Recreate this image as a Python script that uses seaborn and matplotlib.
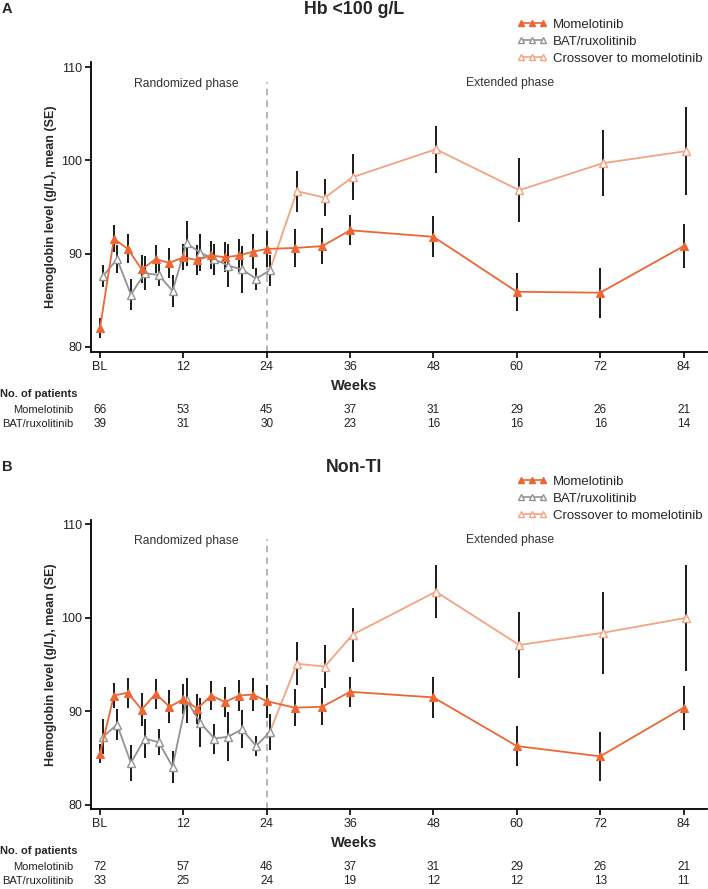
import numpy as np
import pandas as pd
import matplotlib
matplotlib.use("Agg")
import matplotlib.pyplot as plt
from matplotlib.lines import Line2D
from matplotlib.transforms import blended_transform_factory
import seaborn as sns

# ---------------- data ----------------
weeks = [0, 2, 4, 6, 8, 10, 12, 14, 16, 18, 20, 22, 24, 28, 32, 36, 48, 60, 72, 84]
bat_weeks = [0, 2, 4, 6, 8, 10, 12, 14, 16, 18, 20, 22, 24]
cross_weeks = [28, 32, 36, 48, 60, 72, 84]

momA_mean = [82.0, 91.6, 90.5, 88.3, 89.4, 89.0, 89.6, 89.3, 89.8, 89.6, 89.8, 90.2, 90.5,
             90.6, 90.8, 92.5, 91.8, 85.9, 85.8, 90.8]
momA_se = [1.1, 1.45, 1.55, 1.5, 1.5, 1.6, 1.4, 1.6, 1.5, 1.6, 1.8, 1.9, 1.9,
           2.0, 1.9, 1.6, 2.2, 2.05, 2.7, 2.4]
batA_mean = [87.6, 89.4, 85.6, 87.9, 87.7, 86.0, 91.1, 90.1, 89.4, 88.7, 88.3, 87.3, 88.2]
batA_se = [1.2, 1.5, 1.7, 1.8, 1.2, 1.7, 2.45, 2.0, 1.65, 2.3, 2.5, 1.2, 1.7]
crossA_mean = [96.7, 96.0, 98.2, 101.2, 96.8, 99.7, 101.0]
crossA_se = [2.2, 2.0, 2.5, 2.55, 3.45, 3.55, 4.7]

momB_mean = [85.5, 91.7, 92.0, 90.2, 91.9, 90.5, 91.3, 90.3, 91.7, 91.0, 91.7, 91.8, 91.1,
             90.4, 90.5, 92.1, 91.5, 86.3, 85.2, 90.4]
momB_se = [1.05, 1.35, 1.6, 1.8, 1.6, 1.75, 1.6, 1.6, 1.6, 1.6, 1.7, 1.8, 1.75,
           2.0, 2.0, 1.6, 2.2, 2.1, 2.6, 2.35]
batB_mean = [87.3, 88.6, 84.5, 87.1, 86.7, 84.1, 91.2, 88.8, 87.1, 87.3, 88.1, 86.3, 87.8]
batB_se = [1.9, 1.7, 1.9, 2.1, 1.4, 1.7, 2.4, 2.6, 1.6, 2.6, 2.0, 1.1, 1.95]
crossB_mean = [95.1, 94.8, 98.2, 102.8, 97.1, 98.4, 100.0]
crossB_se = [2.3, 2.3, 2.9, 2.85, 3.5, 4.35, 5.65]

tick_weeks = [0, 12, 24, 36, 48, 60, 72, 84]
tick_labels = ["BL", "12", "24", "36", "48", "60", "72", "84"]

nA_mom = [66, 53, 45, 37, 31, 29, 26, 21]
nA_bat = [39, 31, 30, 23, 16, 16, 16, 14]
nB_mom = [72, 57, 46, 37, 31, 29, 26, 21]
nB_bat = [33, 25, 24, 19, 12, 12, 13, 11]

series_names = ["Momelotinib", "BAT/ruxolitinib", "Crossover to momelotinib"]
panel_titles = ["Hb <100 g/L", "Non-TI"]
panel_letters = ["A", "B"]
ylabel = "Hemoglobin level (g/L), mean (SE)"

# ---------------- style ----------------
sns.set_theme(style="white")
plt.rcParams["font.family"] = ["Liberation Sans", "DejaVu Sans"]

C_MOM = "#EE6633"
C_BAT = "#939393"
C_CROSS = "#F5A383"
C_ERR = "#1a1a1a"
BAT_DODGE = 0.45
CROSS_DODGE = 0.35

W, H = 708, 889
fig = plt.figure(figsize=(W / 100, H / 100), dpi=100)

def fy(px):
    return 1 - px / H

panels = [
    dict(top=61.7, bot=352.3, ylim=(79.4, 110.6), mom=(momA_mean, momA_se), bat=(batA_mean, batA_se),
         cross=(crossA_mean, crossA_se), n_mom=nA_mom, n_bat=nA_bat, title_base=13.5, leg_y=18.5),
    dict(top=520.0, bot=809.3, ylim=(79.54, 110.46), mom=(momB_mean, momB_se), bat=(batB_mean, batB_se),
         cross=(crossB_mean, crossB_se), n_mom=nB_mom, n_bat=nB_bat, title_base=471.5, leg_y=475.5),
]

left_px, right_px = 90.7, 706.5
xlim = (-1.34, 87.3)

for i, p in enumerate(panels):
    ax = fig.add_axes([left_px / W, fy(p["bot"]), (right_px - left_px) / W, (p["bot"] - p["top"]) / H])
    mom_m, mom_s = p["mom"]
    bat_m, bat_s = p["bat"]
    cr_m, cr_s = p["cross"]

    xb = np.array(bat_weeks) + BAT_DODGE
    xc = np.array(cross_weeks) + CROSS_DODGE

    # error bars
    ax.vlines(xb, np.array(bat_m) - np.array(bat_s), np.array(bat_m) + np.array(bat_s),
              color=C_ERR, lw=1.4, zorder=1)
    ax.vlines(weeks, np.array(mom_m) - np.array(mom_s), np.array(mom_m) + np.array(mom_s),
              color=C_ERR, lw=1.4, zorder=1)
    ax.vlines(xc, np.array(cr_m) - np.array(cr_s), np.array(cr_m) + np.array(cr_s),
              color=C_ERR, lw=1.4, zorder=1)

    # crossover connector from last BAT point
    df_conn = pd.DataFrame({"x": [xb[-1]] + list(xc), "y": [bat_m[-1]] + list(cr_m)})
    sns.lineplot(data=df_conn, x="x", y="y", ax=ax, color=C_CROSS, lw=1.3, errorbar=None,
                 marker="^", markersize=5.5, markerfacecolor="white", markeredgecolor=C_CROSS,
                 markeredgewidth=1.0, markevery=list(range(1, len(df_conn))), zorder=3)
    df_bat = pd.DataFrame({"x": xb, "y": bat_m})
    sns.lineplot(data=df_bat, x="x", y="y", ax=ax, color=C_BAT, lw=1.3, errorbar=None,
                 marker="^", markersize=5.5, markerfacecolor="white", markeredgecolor=C_BAT,
                 markeredgewidth=1.0, zorder=3)
    df_mom = pd.DataFrame({"x": weeks, "y": mom_m})
    sns.lineplot(data=df_mom, x="x", y="y", ax=ax, color=C_MOM, lw=1.3, errorbar=None,
                 marker="^", markersize=5.5, markerfacecolor=C_MOM, markeredgecolor=C_MOM,
                 markeredgewidth=0.8, zorder=4)

    ax.set_xlim(*xlim)
    ax.set_ylim(*p["ylim"])
    ax.set_xticks(tick_weeks)
    ax.set_xticklabels(tick_labels)
    ax.set_yticks([80, 90, 100, 110])
    ax.tick_params(axis="both", which="major", labelsize=9, length=4, width=1.2,
                   direction="out", color="black", labelcolor="#222222", pad=2,
                   bottom=True, left=True)
    ax.set_xlabel("")
    ax.set_ylabel(ylabel, fontsize=9, fontweight="bold", labelpad=3)
    for s in ["top", "right"]:
        ax.spines[s].set_visible(False)
    for s in ["left", "bottom"]:
        ax.spines[s].set_color("black")
        ax.spines[s].set_linewidth(1.3)

    # phase divider and labels
    ax.axvline(24, ymin=0, ymax=(108.45 - p["ylim"][0]) / (p["ylim"][1] - p["ylim"][0]),
               color="#AAAAAA", lw=1.2, ls=(0, (4, 3)), zorder=0)
    ax.text(12.4, 108.2, "Randomized phase", ha="center", va="center", fontsize=8.7, color="#333333")
    ax.text(59.0, 108.3, "Extended phase", ha="center", va="center", fontsize=8.7, color="#333333")

    # titles
    fig.text(354 / W, fy(p["title_base"]), panel_titles[i], ha="center", va="baseline",
             fontsize=12.8, fontweight="bold")
    fig.text(2 / W, fy(p["title_base"] - 0.5), panel_letters[i], ha="left", va="baseline",
             fontsize=10.5, fontweight="bold")

    # legend
    handles = [
        Line2D([], [], color=C_MOM, lw=1.2, marker="^", markersize=5, markerfacecolor=C_MOM,
               markeredgecolor=C_MOM),
        Line2D([], [], color=C_BAT, lw=1.2, marker="^", markersize=5, markerfacecolor="white",
               markeredgecolor=C_BAT),
        Line2D([], [], color=C_CROSS, lw=1.2, marker="^", markersize=5, markerfacecolor="white",
               markeredgecolor=C_CROSS),
    ]
    fig.legend(handles, series_names, loc="upper left", bbox_to_anchor=(517 / W, fy(p["leg_y"])),
               frameon=False, fontsize=9.5, numpoints=3, handlelength=2.3, handletextpad=0.45,
               labelspacing=0.36, borderaxespad=0, borderpad=0)

    # x label and table
    b = p["bot"]
    fig.text(354 / W, fy(b + 34), "Weeks", ha="center", va="center", fontsize=10.5, fontweight="bold")
    fig.text(0.5 / W, fy(b + 42), "No. of patients", ha="left", va="center", fontsize=8,
             fontweight="bold")
    fig.text(73 / W, fy(b + 58), series_names[0], ha="right", va="center", fontsize=8, color="#222222")
    fig.text(73 / W, fy(b + 72), series_names[1], ha="right", va="center", fontsize=8, color="#222222")
    tr = blended_transform_factory(ax.transData, fig.transFigure)
    for wk, n1, n2 in zip(tick_weeks, p["n_mom"], p["n_bat"]):
        ax.text(wk, fy(b + 58), str(n1), transform=tr, ha="center", va="center", fontsize=8.5,
                color="#222222")
        ax.text(wk, fy(b + 72), str(n2), transform=tr, ha="center", va="center", fontsize=8.5,
                color="#222222")

fig.savefig("out.png", dpi=100)
